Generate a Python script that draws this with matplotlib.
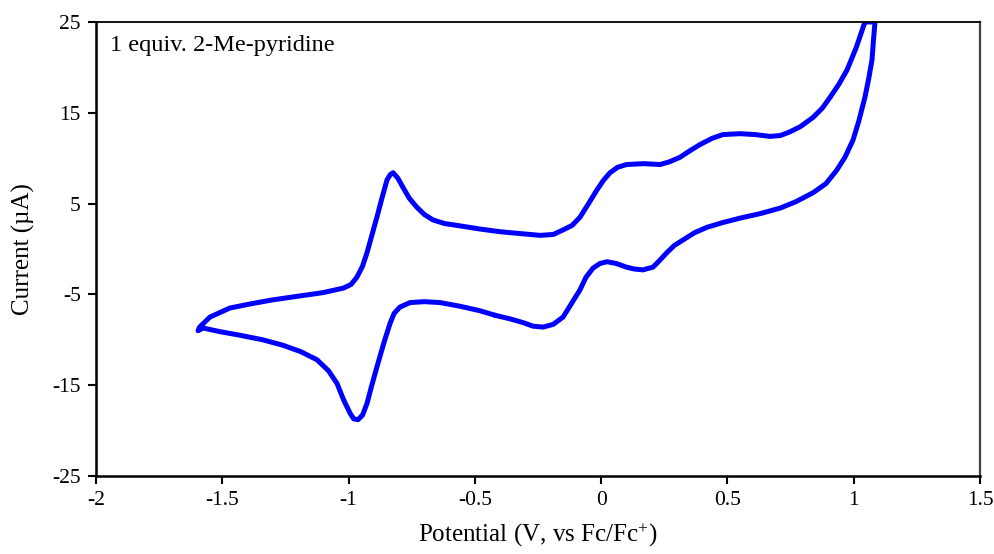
import matplotlib
matplotlib.use('Agg')
import matplotlib.pyplot as plt

plt.rcParams['font.family'] = ['Liberation Serif', 'DejaVu Serif']
plt.rcParams['mathtext.default'] = 'regular'
plt.rcParams['axes.unicode_minus'] = False

# one CV cycle, starting at -0.42 V on the cathodic sweep
potential = [-0.42, -0.48, -0.56, -0.638, -0.70, -0.757, -0.797, -0.82, -0.836, -0.86,
             -0.888, -0.91, -0.927, -0.945, -0.963, -0.98, -0.994, -1.02, -1.046, -1.08,
             -1.125, -1.19, -1.26, -1.34, -1.43, -1.51, -1.576, -1.596,
             -1.59, -1.549, -1.47, -1.38, -1.30, -1.20, -1.10, -1.02, -0.99, -0.967,
             -0.945, -0.927, -0.908, -0.888, -0.868, -0.848, -0.835, -0.824, -0.805,
             -0.785, -0.76, -0.73, -0.70, -0.666, -0.62, -0.571, -0.48, -0.40, -0.32,
             -0.242, -0.19, -0.151, -0.115, -0.084, -0.05, -0.017, 0.01, 0.035, 0.065,
             0.10, 0.17, 0.233, 0.27, 0.312, 0.35, 0.391, 0.44, 0.482, 0.55, 0.61,
             0.668, 0.71, 0.747, 0.79, 0.839, 0.875, 0.906, 0.94, 0.973, 1.01, 1.044,
             1.084,
             1.078, 1.072, 1.058, 1.044, 1.02, 0.997, 0.965, 0.933, 0.89, 0.839, 0.77,
             0.708, 0.63, 0.55, 0.48, 0.42, 0.37, 0.324, 0.29, 0.26, 0.23, 0.205, 0.165,
             0.13, 0.10, 0.06, 0.023, -0.005, -0.032, -0.06, -0.084, -0.12, -0.151,
             -0.19, -0.23, -0.27, -0.31, -0.36, -0.42]
current = [-7.3, -6.8, -6.3, -5.9, -5.8, -5.9, -6.4, -7.1, -8.2, -10.3,
           -13.0, -15.2, -17.0, -18.3, -18.8, -18.7, -18.1, -16.6, -14.8, -13.4,
           -12.2, -11.3, -10.6, -10.0, -9.5, -9.1, -8.7, -9.0,
           -8.6, -7.5, -6.5, -6.0, -5.6, -5.2, -4.8, -4.3, -3.9, -3.1,
           -1.9, -0.4, 1.5, 3.5, 5.6, 7.6, 8.2, 8.4, 7.8,
           6.8, 5.6, 4.6, 3.8, 3.2, 2.8, 2.6, 2.2, 1.9, 1.7,
           1.5, 1.6, 2.1, 2.6, 3.5, 5.0, 6.5, 7.6, 8.4, 9.0,
           9.3, 9.4, 9.3, 9.6, 10.1, 10.8, 11.5, 12.2, 12.6, 12.7, 12.6,
           12.4, 12.5, 12.9, 13.5, 14.5, 15.5, 16.7, 18.1, 19.7, 22.2, 25.0,
           25.0,
           23.0, 20.8, 18.6, 16.7, 14.1, 12.0, 10.1, 8.7, 7.2, 6.2, 5.2,
           4.5, 3.9, 3.4, 2.9, 2.4, 1.8, 1.0, 0.4, -0.4, -1.3, -2.0, -2.3,
           -2.2, -2.0, -1.6, -1.4, -1.6, -2.1, -3.1, -4.5, -6.1, -7.5,
           -8.3, -8.6, -8.5, -8.1, -7.7, -7.3]

yticks = [-25, -15, -5, 5, 15, 25]
xticks = [-2, -1.5, -1, -0.5, 0, 0.5, 1, 1.5]
xtick_labels = ['-2', '-1.5', '-1', '-0.5', '0', '0.5', '1', '1.5']

fig = plt.figure(figsize=(9.95, 5.54), dpi=100)
ax = fig.add_axes([0.0965, 0.1408, 0.8885, 0.8195])

ax.plot(potential, current, color='#0000FF', lw=3.6, solid_joinstyle='round',
        solid_capstyle='round')

ax.set_xlim(-2, 1.5)
ax.set_ylim(-25, 25)
ax.set_xticks(xticks)
ax.set_xticklabels(xtick_labels)
ax.set_yticks(yticks)
ax.tick_params(axis='both', direction='out', length=6, width=1.5, labelsize=15.5,
               colors='black', pad=5)
ax.tick_params(top=False, right=False)

for side in ['left', 'bottom']:
    ax.spines[side].set_linewidth(1.8)
    ax.spines[side].set_color('black')
ax.spines['top'].set_linewidth(1.3)
ax.spines['right'].set_linewidth(1.6)
ax.spines['right'].set_color('#444444')

ax.set_xlabel('Potential (V, vs Fc/Fc$^{+}$)', fontsize=18, labelpad=8)
ax.set_ylabel('Current (\u00b5A)', fontsize=18, labelpad=12)

ax.text(0.016, 0.972, '1 equiv. 2-Me-pyridine', transform=ax.transAxes,
        fontsize=17.5, va='top', ha='left')

fig.savefig('out.png', dpi=100)
